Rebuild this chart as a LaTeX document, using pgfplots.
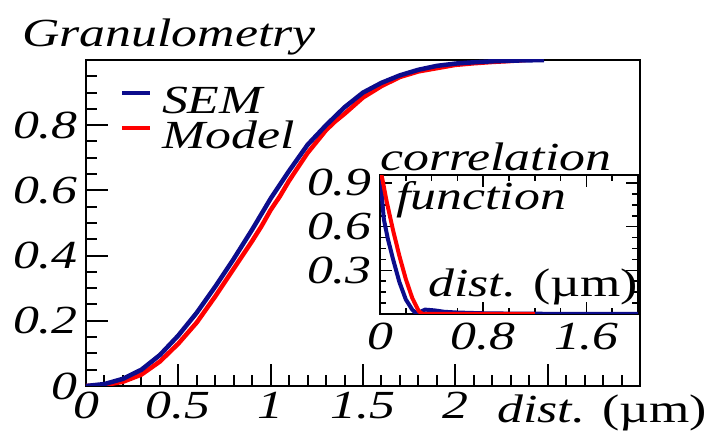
\documentclass[border=0pt]{standalone}
\usepackage{fontspec}
\setmainfont{Liberation Serif}[FakeStretch=1.3]
\usepackage{pgfplots}
\pgfplotsset{compat=1.18}
\definecolor{semblue}{RGB}{12,12,140}
\definecolor{modred}{RGB}{255,0,0}
\newcommand\bigf{\fontsize{40}{44}\selectfont}
\begin{document}
\begin{tikzpicture}
\path[use as bounding box] (-86bp,-55bp) rectangle (623bp,386bp);
\begin{axis}[name=main, at={(0bp,0bp)}, anchor=south west, scale only axis,
  width=554bp, height=326bp, xmin=0, xmax=3, ymin=0, ymax=1,
  axis line style={line width=2.5bp}, clip=true,
  tick style={line width=2bp, black}, tick align=inside,
  major tick length=22bp, minor tick length=11bp,
  xtick pos=bottom, ytick pos=left,
  xtick={0,0.5,1,1.5,2,2.5}, xticklabels={0,0.5,1,1.5,2,{}},
  minor xtick={0.1,0.2,...,2.95},
  ytick={0,0.2,0.4,0.6,0.8,1}, yticklabels={0,0.2,0.4,0.6,0.8,{}},
  minor ytick={0.05,0.1,...,0.96},
  tick label style={font=\bigf\itshape, inner sep=0pt},
  xticklabel style={yshift=-6bp},
  yticklabel style={xshift=-8bp},
  legend style={draw=none, fill=none, font=\bigf\itshape, anchor=north west,
    at={(axis description cs:0.062,0.915)}, inner sep=0pt, row sep=9bp,
    nodes={inner sep=0pt, text depth=0pt, text height=26bp}},
  legend cell align=left,
  legend image code/.code={\draw[line width=3.5bp] (0bp,8bp) -- (28bp,8bp);},
]
\addlegendimage{semblue, line width=3.5bp}\addlegendentry{\hspace{10bp}SEM}
\addlegendimage{modred, line width=3.5bp}\addlegendentry{\hspace{10bp}Model}
\addplot[modred, line width=4.5bp, forget plot] coordinates {
(0,0) (0.1,0.003) (0.2,0.013) (0.3,0.035) (0.4,0.075) (0.5,0.13) (0.6,0.195)
(0.7,0.275) (0.8,0.36) (0.9,0.445) (0.95,0.49) (1.0,0.54) (1.05,0.582)
(1.1,0.63) (1.2,0.715) (1.3,0.785) (1.35,0.812) (1.4,0.835) (1.45,0.86)
(1.5,0.885) (1.6,0.92) (1.7,0.948) (1.8,0.965) (1.9,0.975) (2.0,0.985)
(2.1,0.99) (2.2,0.994) (2.3,0.997) (2.38,1.0)};
\addplot[semblue, line width=4.5bp, forget plot] coordinates {
(0,0) (0.1,0.006) (0.2,0.022) (0.3,0.05) (0.4,0.095) (0.5,0.155) (0.6,0.225)
(0.7,0.305) (0.8,0.39) (0.9,0.48) (1.0,0.575) (1.1,0.66) (1.2,0.74)
(1.3,0.80) (1.4,0.855) (1.5,0.90) (1.6,0.93) (1.7,0.953) (1.8,0.97)
(1.9,0.982) (2.0,0.989) (2.1,0.993) (2.2,0.996) (2.3,0.998) (2.4,0.999)
(2.48,1.0)};
\end{axis}
\node[anchor=base west, inner sep=0pt, font=\bigf\itshape] at (-64bp,339bp) {Granulometry};
\node[anchor=base west, inner sep=0pt, font=\bigf] at (411bp,-36bp) {\textit{dist.} (µm)};
\begin{axis}[at={(294bp,72bp)}, anchor=south west, scale only axis,
  width=258bp, height=139bp, xmin=0, xmax=2, ymin=0, ymax=0.955,
  axis background/.style={fill=white},
  axis line style={line width=2.2bp},
  tick style={line width=1.6bp, black}, tick align=inside,
  major tick length=12bp, minor tick length=6bp,
  xtick={0,0.8,1.6}, minor xtick={0.2,0.4,0.6,1.0,1.2,1.4,1.8},
  ytick={0.3,0.6,0.9}, minor ytick={0.075,0.15,0.225,0.375,0.45,0.525,0.675,0.75,0.825},
  xticklabels={0,0.8,1.6}, yticklabels={0.3,0.6,0.9},
  tick label style={font=\bigf\itshape, inner sep=0pt},
  xticklabel style={yshift=-9bp},
  yticklabel style={xshift=-8bp},
]
\addplot[semblue, line width=4bp] coordinates {
(0,1.0) (0.01,0.85) (0.03,0.65) (0.06,0.52) (0.1,0.38) (0.15,0.22) (0.2,0.1)
(0.25,0.03) (0.28,0.005) (0.3,0.01) (0.35,0.03) (0.42,0.025) (0.5,0.015)
(0.6,0.01) (0.8,0.005) (1.0,0.003) (1.2,0.002) (1.6,0.0) (2.0,0.0)};
\addplot[modred, line width=4bp] coordinates {
(0,1.0) (0.02,0.92) (0.05,0.78) (0.1,0.58) (0.15,0.4) (0.2,0.24) (0.25,0.11)
(0.3,0.02) (0.33,0.0) (0.5,0.0) (0.8,0.0) (1.2,0.0)};
\end{axis}
\node[anchor=base west, inner sep=0pt, font=\bigf\itshape] at (294bp,215bp) {correlation};
\node[anchor=base west, inner sep=0pt, font=\bigf\itshape] at (310bp,176bp) {function};
\node[anchor=base west, inner sep=0pt, font=\bigf] at (342bp,89bp) {\textit{dist.} (µm)};
\end{tikzpicture}
\end{document}
